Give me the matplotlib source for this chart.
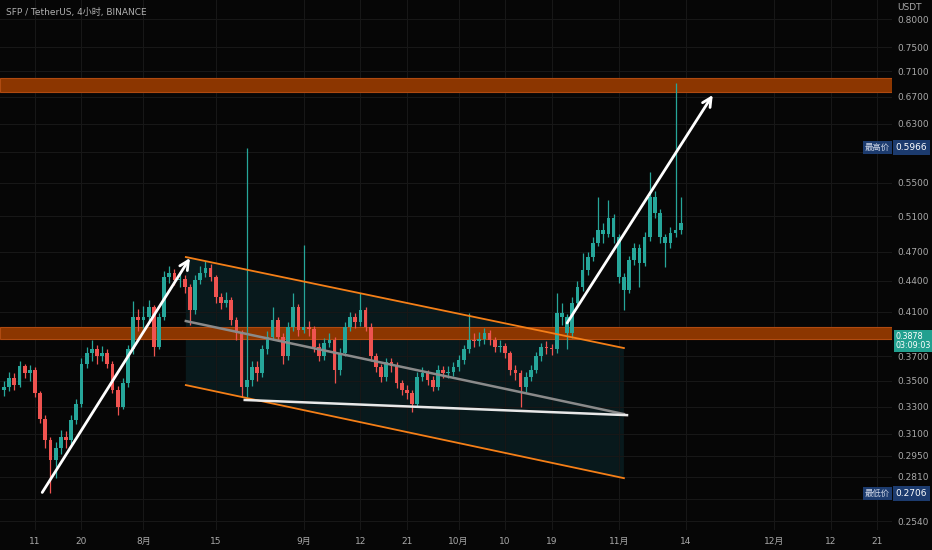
import matplotlib
matplotlib.use("Agg")
import matplotlib.pyplot as plt
from matplotlib.ticker import NullLocator

plt.rcParams['font.family'] = ['DejaVu Sans', 'Noto Sans CJK SC']

# --- data (days counted from 1 July, one candle per day) ---
first_day = 4
first_open = 0.343
closes = [0.345, 0.352, 0.347, 0.362, 0.356, 0.359, 0.340, 0.321, 0.306, 0.292,
          0.300, 0.308, 0.306, 0.320, 0.332, 0.364, 0.373, 0.376, 0.370, 0.373,
          0.364, 0.343, 0.330, 0.348, 0.376, 0.405, 0.402, 0.405, 0.414, 0.378,
          0.405, 0.444, 0.448, 0.441, 0.442, 0.434, 0.411, 0.441, 0.448, 0.453,
          0.444, 0.424, 0.418, 0.421, 0.402, 0.390, 0.345, 0.351, 0.361, 0.356,
          0.376, 0.387, 0.402, 0.387, 0.370, 0.396, 0.414, 0.393, 0.396, 0.394,
          0.378, 0.370, 0.382, 0.384, 0.359, 0.373, 0.396, 0.405, 0.400, 0.411,
          0.396, 0.370, 0.361, 0.353, 0.365, 0.362, 0.348, 0.343, 0.340, 0.332,
          0.353, 0.356, 0.351, 0.345, 0.359, 0.356, 0.357, 0.361, 0.367, 0.376,
          0.384, 0.383, 0.385, 0.390, 0.384, 0.378, 0.379, 0.373, 0.359, 0.356,
          0.345, 0.353, 0.359, 0.370, 0.378, 0.377, 0.376, 0.409, 0.405, 0.390,
          0.418, 0.434, 0.451, 0.464, 0.480, 0.494, 0.490, 0.508, 0.486, 0.444,
          0.431, 0.461, 0.474, 0.458, 0.486, 0.533, 0.514, 0.486, 0.480, 0.491,
          0.494, 0.502]
highs = [0.350, 0.357, 0.356, 0.366, 0.364, 0.363, 0.361, 0.342, 0.324, 0.308,
         0.304, 0.313, 0.312, 0.324, 0.336, 0.369, 0.378, 0.384, 0.380, 0.379,
         0.376, 0.366, 0.346, 0.352, 0.380, 0.420, 0.412, 0.415, 0.421, 0.416,
         0.409, 0.450, 0.455, 0.452, 0.448, 0.446, 0.437, 0.446, 0.455, 0.460,
         0.457, 0.446, 0.428, 0.429, 0.424, 0.405, 0.393, 0.596, 0.366, 0.366,
         0.380, 0.392, 0.414, 0.405, 0.390, 0.400, 0.428, 0.417, 0.477, 0.401,
         0.397, 0.382, 0.386, 0.390, 0.387, 0.377, 0.400, 0.410, 0.409, 0.428,
         0.414, 0.399, 0.373, 0.364, 0.369, 0.369, 0.365, 0.351, 0.347, 0.343,
         0.357, 0.361, 0.359, 0.354, 0.363, 0.362, 0.362, 0.365, 0.371, 0.380,
         0.409, 0.390, 0.391, 0.395, 0.393, 0.387, 0.384, 0.382, 0.375, 0.363,
         0.359, 0.357, 0.363, 0.374, 0.382, 0.383, 0.381, 0.428, 0.418, 0.408,
         0.424, 0.440, 0.469, 0.470, 0.486, 0.533, 0.502, 0.529, 0.512, 0.490,
         0.448, 0.466, 0.480, 0.478, 0.492, 0.564, 0.540, 0.518, 0.490, 0.497,
         0.691, 0.533]
lows = [0.338, 0.342, 0.343, 0.345, 0.352, 0.350, 0.337, 0.318, 0.300, 0.271,
        0.280, 0.296, 0.300, 0.303, 0.317, 0.330, 0.360, 0.366, 0.364, 0.366,
        0.360, 0.340, 0.324, 0.328, 0.345, 0.372, 0.392, 0.395, 0.400, 0.370,
        0.376, 0.402, 0.438, 0.436, 0.434, 0.428, 0.398, 0.408, 0.437, 0.444,
        0.440, 0.418, 0.412, 0.414, 0.398, 0.384, 0.337, 0.337, 0.346, 0.350,
        0.353, 0.372, 0.384, 0.383, 0.364, 0.367, 0.392, 0.388, 0.390, 0.388,
        0.374, 0.366, 0.367, 0.378, 0.348, 0.355, 0.370, 0.392, 0.395, 0.397,
        0.392, 0.366, 0.357, 0.349, 0.350, 0.357, 0.344, 0.339, 0.336, 0.326,
        0.330, 0.350, 0.347, 0.342, 0.343, 0.352, 0.352, 0.354, 0.358, 0.364,
        0.373, 0.378, 0.379, 0.381, 0.380, 0.374, 0.374, 0.369, 0.355, 0.351,
        0.330, 0.341, 0.350, 0.356, 0.366, 0.372, 0.371, 0.373, 0.398, 0.376,
        0.386, 0.414, 0.430, 0.446, 0.460, 0.476, 0.480, 0.486, 0.480, 0.438,
        0.411, 0.428, 0.456, 0.434, 0.455, 0.482, 0.508, 0.480, 0.454, 0.474,
        0.486, 0.490]
breakout_day = 111  # every candle from here on is drawn teal in the source

# horizontal zones (price bands)
zones = [(0.677, 0.699), (0.3855, 0.3958)]
# parallel channel: (day, price) endpoints
chan_days = [39.2, 124.0]
chan_upper = [0.4644, 0.3772]
chan_mid = [0.4012, 0.3244]
chan_lower = [0.3466, 0.2802]
support_days = [50.6, 124.6]
support_px = [0.335, 0.3236]
arrow1 = [(11.4, 0.2712), (40.0, 0.4633)]
arrow2 = [(113.0, 0.3994), (141.2, 0.6725)]

x_ticks = [10, 19, 31, 45, 62, 73, 82, 92, 101, 110, 123, 136, 153, 164, 173]
x_labels = ['11', '20', '8月', '15', '9月', '12', '21', '10月', '10', '19',
            '11月', '14', '12月', '12', '21']
y_ticks = [0.2540, 0.2670, 0.2810, 0.2950, 0.3100, 0.3300, 0.3500, 0.3700,
           0.4100, 0.4400, 0.4700, 0.5100, 0.5500, 0.5900, 0.6300, 0.6700,
           0.7100, 0.7500, 0.8000]
covered_ticks = [0.2670, 0.5900]  # hidden behind the high/low price tags
high_mark = 0.5966
low_mark = 0.2706
last_price = 0.3878

BG = '#060606'
UP = '#26a69a'
DOWN = '#ef5350'

fig = plt.figure(figsize=(9.32, 5.5), dpi=100, facecolor=BG)
ax = fig.add_axes([0, 20 / 550, 892 / 932, 530 / 550])
ax.set_facecolor(BG)
ax.set_yscale('log')
ax.set_xlim(3.225, 175.9)
ax.set_ylim(0.2489, 0.8355)

for s in ax.spines.values():
    s.set_visible(False)

ax.set_yticks(y_ticks)
ax.set_yticklabels(['' if v in covered_ticks else '%.4f' % v for v in y_ticks])
ax.yaxis.set_minor_locator(NullLocator())
ax.yaxis.tick_right()
ax.set_xticks(x_ticks)
ax.set_xticklabels(x_labels)
ax.tick_params(axis='both', length=0, labelsize=6.5, labelcolor='#a9a9a9')
ax.tick_params(axis='y', pad=4)
ax.tick_params(axis='x', pad=5)
ax.grid(True, color='#171717', linewidth=0.8)
ax.set_axisbelow(True)

# zones
for lo, hi in zones:
    ax.axhspan(lo, hi, facecolor='#8c3600', edgecolor='#b04a10', linewidth=0.8, zorder=1)

# channel fill and lines
ax.fill([chan_days[0], chan_days[1], chan_days[1], chan_days[0]],
        [chan_upper[0], chan_upper[1], chan_lower[1], chan_lower[0]],
        color='#08191c', zorder=0.5, linewidth=0)
ax.plot(chan_days, chan_upper, color='#f57f17', lw=1.3, zorder=4)
ax.plot(chan_days, chan_lower, color='#f57f17', lw=1.3, zorder=4)
ax.plot(chan_days, chan_mid, color='#8a8a8a', lw=1.8, zorder=4)
ax.plot(support_days, support_px, color='#e8e8e8', lw=1.8, zorder=4)

# candles
opens = [first_open] + closes[:-1]
days = list(range(first_day, first_day + len(closes)))
for d, o, h, l, c in zip(days, opens, highs, lows, closes):
    col = UP if (c >= o or d >= breakout_day) else DOWN
    ax.vlines(d, l, h, color=col, linewidth=0.9, zorder=3)
    ax.bar(d, abs(c - o) if abs(c - o) > 0.0008 else 0.0008, bottom=min(o, c),
           width=0.72, color=col, linewidth=0, zorder=3)

# arrows
for (p0, p1) in [arrow1, arrow2]:
    ax.annotate('', xy=p1, xytext=p0,
                arrowprops=dict(arrowstyle='->', color='white', lw=2,
                                mutation_scale=16, shrinkA=0, shrinkB=0),
                zorder=6)

# title and axis caption
fig.text(6 / 932, 1 - 12 / 550, 'SFP / TetherUS, 4小时, BINANCE', color='#b0b0b0',
         fontsize=6.5, va='center', ha='left')
fig.text(897 / 932, 1 - 8 / 550, 'USDT', color='#a9a9a9', fontsize=6.5,
         va='center', ha='left')

# price labels on the right
yt = ax.get_yaxis_transform()
for name, val in [('最高价', high_mark), ('最低价', low_mark)]:
    ax.text(0.998, val, name, transform=yt, ha='right', va='center', fontsize=6,
            color='#d0d8e8', zorder=8,
            bbox=dict(boxstyle='square,pad=0.25', fc='#1c3b6e', ec='none'))
    ax.text(1.004, val, '%.4f' % val, transform=yt, ha='left', va='center',
            fontsize=6.5, color='white', clip_on=False, zorder=8,
            bbox=dict(boxstyle='square,pad=0.3', fc='#1c3b6e', ec='none'))
ax.text(1.004, 0.3835, '%.4f\n03:09:03' % last_price, transform=yt, ha='left',
        va='center', fontsize=5.8, color='white', clip_on=False, zorder=8,
        linespacing=1.05,
        bbox=dict(boxstyle='square,pad=0.22', fc='#22a08f', ec='none'))

fig.savefig('out.png', dpi=100, facecolor=BG)
